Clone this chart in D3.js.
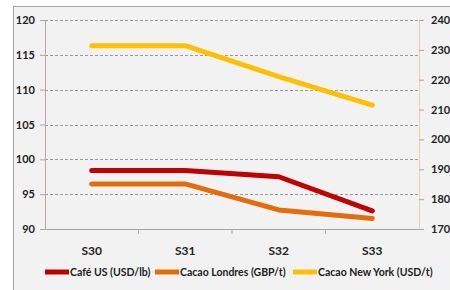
<!DOCTYPE html>
<html>
<head>
<meta charset="utf-8">
<script src="https://cdn.jsdelivr.net/npm/d3@7"></script>
<style>
  body { margin: 0; background: #fff; }
  svg text { font-family: Lato, "Open Sans", sans-serif; font-weight: bold; fill: #222; }
</style>
</head>
<body>
<div id="chart"></div>
<script>
// data
const weeks = ["S30", "S31", "S32", "S33"];
const cafeUS = [98.4, 98.4, 97.5, 92.6];          // left axis
const cacaoLondres = [1851, 1851, 1764, 1735];     // right axis
const cacaoNY = [2314, 2314, 2210, 2115];          // right axis
const leftTicks = [90, 95, 100, 105, 110, 115, 120];
const rightTicks = [1700, 1800, 1900, 2000, 2100, 2200, 2300, 2400];

let width = 450, height = 290;
let margin = { top: 20, left: 45, right: 31, bottom: 61 };
let innerW = width - margin.left - margin.right,
    innerH = height - margin.top - margin.bottom;

let svg = d3.select("#chart").append("svg")
  .attr("width", width)
  .attr("height", height);

// chart area background + border
svg.append("rect")
  .attr("x", 13.5).attr("y", 6.5)
  .attr("width", 460).attr("height", 300)
  .attr("fill", "#f2f2f2")
  .attr("stroke", "#a6a6a6");

let g = svg.append("g").attr("transform", `translate(${margin.left},${margin.top})`);

let x = d3.scaleBand().domain(weeks).range([0, innerW]);
let yL = d3.scaleLinear().domain([90, 120]).range([innerH, 0]);
let yR = d3.scaleLinear().domain([1700, 2400]).range([innerH, 0]);

// gridlines
g.append("g").selectAll("line")
  .data(leftTicks.slice(1))
  .join("line")
  .attr("x1", 0).attr("x2", innerW)
  .attr("y1", d => Math.round(yL(d)) + 0.5).attr("y2", d => Math.round(yL(d)) + 0.5)
  .attr("stroke", "#9a9a9a")
  .attr("stroke-dasharray", "3,2");

// x axis (ticks between categories)
let xAxis = g.append("g").attr("transform", `translate(0,${innerH})`);
xAxis.append("line").attr("x1", 0).attr("x2", innerW).attr("y1", 0.5).attr("y2", 0.5).attr("stroke", "#a6a6a6");
xAxis.selectAll(".tk")
  .data(weeks.slice(1))
  .join("line")
  .attr("x1", d => x(d)).attr("x2", d => x(d))
  .attr("y1", 0).attr("y2", 5)
  .attr("stroke", "#a6a6a6");
xAxis.selectAll("text")
  .data(weeks)
  .join("text")
  .attr("x", d => x(d) + x.bandwidth() / 2)
  .attr("y", 26)
  .attr("text-anchor", "middle")
  .style("font-size", "12px")
  .text(d => d);

// left axis
let left = g.append("g")
  .call(d3.axisLeft(yL).tickValues(leftTicks).tickSize(5).tickPadding(5));
left.select(".domain").attr("stroke", "#c9a3a3");
left.selectAll(".tick line").attr("stroke", "#a6a6a6");
left.selectAll("text").style("font-size", "11px").style("fill", "#222");

// right axis
let right = g.append("g").attr("transform", `translate(${innerW},0)`)
  .call(d3.axisRight(yR).tickValues(rightTicks).tickFormat(d3.format("d")).tickSize(5).tickPadding(7));
right.select(".domain").attr("stroke", "#f1cfa8");
right.selectAll(".tick line").attr("stroke", "#a6a6a6");
right.selectAll("text").style("font-size", "11px").style("fill", "#222");

// lines
const series = [
  { name: "Café US (USD/lb)", values: cafeUS, scale: yL, color: "#c00000" },
  { name: "Cacao Londres (GBP/t)", values: cacaoLondres, scale: yR, color: "#e46c0a" },
  { name: "Cacao New York (USD/t)", values: cacaoNY, scale: yR, color: "#ffc000" }
];

series.forEach(function (s) {
  let line = d3.line()
    .x((d, i) => x(weeks[i]) + x.bandwidth() / 2)
    .y(d => s.scale(d));
  g.append("path")
    .datum(s.values)
    .attr("d", line)
    .attr("fill", "none")
    .attr("stroke", s.color)
    .attr("stroke-width", 5)
    .attr("stroke-linecap", "round")
    .attr("stroke-linejoin", "round");
});

// legend
const legendX = [45, 155, 293];
let legend = svg.append("g").attr("transform", "translate(0,272)");
series.forEach(function (s, i) {
  legend.append("line")
    .attr("x1", legendX[i]).attr("x2", legendX[i] + 24)
    .attr("y1", 0).attr("y2", 0)
    .attr("stroke", s.color)
    .attr("stroke-width", 5);
  legend.append("text")
    .attr("x", legendX[i] + 25)
    .attr("y", 4)
    .style("font-size", "10.5px")
    .text(s.name);
});
</script>
</body>
</html>
